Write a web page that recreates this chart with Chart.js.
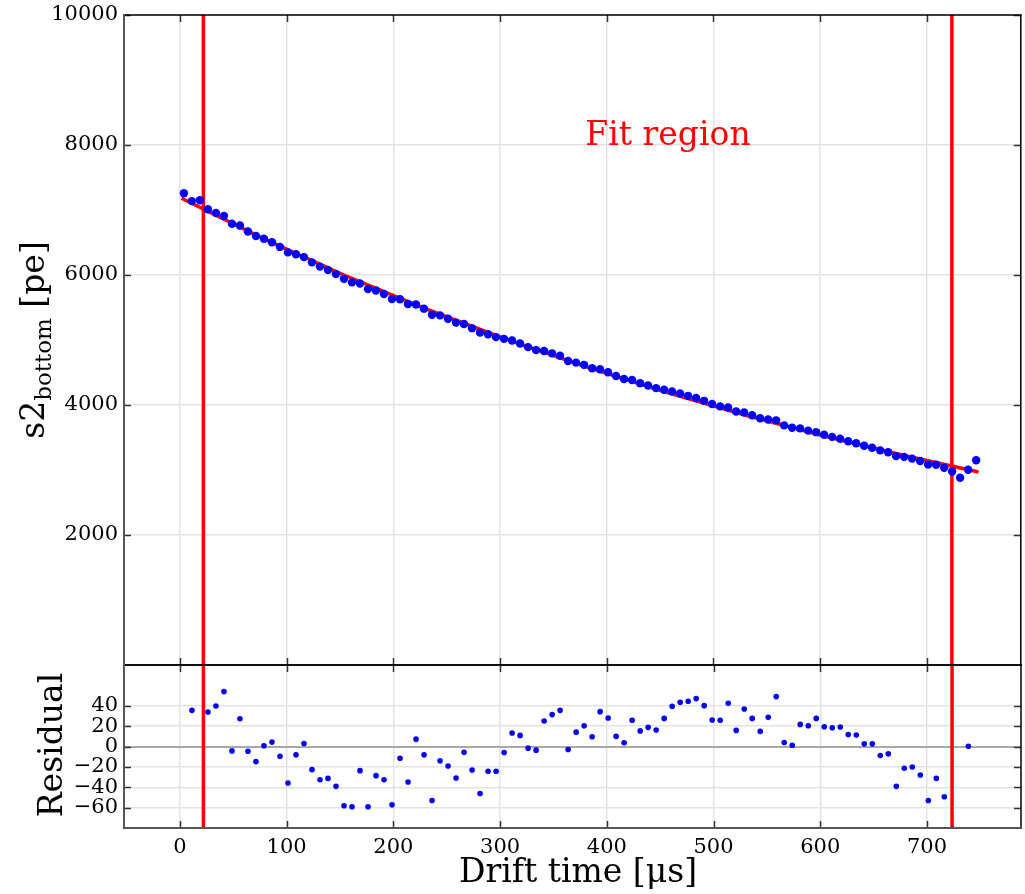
<!DOCTYPE html>
<html>
<head>
<meta charset="utf-8">
<script src="https://cdn.jsdelivr.net/npm/chart.js@4.4.0/dist/chart.umd.min.js"></script>
<style>
  html, body { margin: 0; padding: 0; background: #fff; }
  #wrap { position: relative; width: 1025px; height: 894px; overflow: hidden; }
  #wrap canvas { position: absolute; left: 0; }
  #cMain { top: -5px; }
  #cRes { top: 645px; }
</style>
</head>
<body>
<div id="wrap">
  <canvas id="cMain" width="1025" height="690"></canvas>
  <canvas id="cRes" width="1025" height="249"></canvas>
</div>
<script>
// ── data ────────────────────────────────────────────────
// drift time bin centres [µs]
var driftTime = [
  3.75, 11.25, 18.75, 26.25, 33.75, 41.25, 48.75, 56.25, 63.75, 71.25,
  78.75, 86.25, 93.75, 101.25, 108.75, 116.25, 123.75, 131.25, 138.75, 146.25,
  153.75, 161.25, 168.75, 176.25, 183.75, 191.25, 198.75, 206.25, 213.75, 221.25,
  228.75, 236.25, 243.75, 251.25, 258.75, 266.25, 273.75, 281.25, 288.75, 296.25,
  303.75, 311.25, 318.75, 326.25, 333.75, 341.25, 348.75, 356.25, 363.75, 371.25,
  378.75, 386.25, 393.75, 401.25, 408.75, 416.25, 423.75, 431.25, 438.75, 446.25,
  453.75, 461.25, 468.75, 476.25, 483.75, 491.25, 498.75, 506.25, 513.75, 521.25,
  528.75, 536.25, 543.75, 551.25, 558.75, 566.25, 573.75, 581.25, 588.75, 596.25,
  603.75, 611.25, 618.75, 626.25, 633.75, 641.25, 648.75, 656.25, 663.75, 671.25,
  678.75, 686.25, 693.75, 701.25, 708.75, 716.25, 723.75, 731.25, 738.75, 746.25
];

// s2 bottom [pe] per bin
var s2Bottom = [
  7258, 7137, 7151, 7011, 6955, 6908, 6789, 6761, 6669, 6600,
  6557, 6503, 6432, 6348, 6320, 6275, 6194, 6129, 6076, 6014,
  5941, 5887, 5870, 5783, 5762, 5707, 5631, 5627, 5553, 5546,
  5482, 5389, 5379, 5327, 5268, 5246, 5182, 5113, 5089, 5044,
  5018, 4993, 4946, 4890, 4845, 4831, 4795, 4757, 4677, 4652,
  4618, 4566, 4550, 4504, 4447, 4401, 4385, 4336, 4301, 4260,
  4234, 4209, 4176, 4141, 4107, 4064, 4015, 3979, 3961, 3900,
  3886, 3843, 3797, 3777, 3764, 3687, 3651, 3640, 3606, 3582,
  3542, 3510, 3480, 3442, 3411, 3372, 3343, 3302, 3274, 3213,
  3202, 3175, 3139, 3086, 3080, 3035, 2976, 2880, 3003, 3151
];

// data minus fit
var residual = [
  93, 35.5, 112, 33.9, 39.8, 53.9, -4.3, 27.3, -4.6, -14.8,
  0.7, 4.3, -9.5, -35.9, -8.2, 3.0, -22.7, -32.6, -31.3, -39.1,
  -58.2, -59.2, -23.7, -59.2, -28.6, -32.6, -57.2, -11.5, -34.9, 7.2,
  -8.2, -53.0, -14.1, -19.1, -30.9, -5.6, -23.0, -46.1, -24.3, -24.3,
  -5.9, 13.2, 10.9, -1.6, -3.6, 25.0, 31.3, 35.5, -3.0, 14.1,
  20.4, 9.5, 34.2, 28.0, 9.9, 3.6, 25.7, 15.3, 18.8, 16.1,
  27.6, 39.5, 43.4, 44.4, 47.0, 40.1, 26.0, 25.7, 42.4, 15.8,
  36.8, 27.6, 14.8, 28.6, 49.0, 3.9, 1.3, 21.7, 20.4, 27.6,
  19.4, 18.4, 19.1, 11.8, 11.2, 2.6, 2.6, -8.9, -7.2, -39.1,
  -21.4, -20.1, -28.0, -53.0, -31.3, -49.3, -81, -150, 0.3, 175
];

// fit curve, sampled
var fitX = [1.5, 78.75, 153.75, 228.75, 303.75, 378.75, 453.75, 528.75, 603.75, 678.75, 748.5];
var fitY = [7180, 6557, 6000, 5490, 5024, 4597, 4207, 3850, 3523, 3224, 2968];

// fit region limits [µs]
var fitRegion = [22, 723.5];

var xTicks   = [0, 100, 200, 300, 400, 500, 600, 700];
var yTicks   = [2000, 4000, 6000, 8000, 10000];
var resTicks = [-60, -40, -20, 0, 20, 40];

var X_MIN = -52.4, X_MAX = 788.1;

// ── style ───────────────────────────────────────────────
var SERIF = "'DejaVu Serif', 'Liberation Serif', serif";
var GRID  = '#e3e3e3';
var BLUE  = '#0000ff';
var RED   = '#ff0000';

function pts(xs, ys) {
  return xs.map(function(x, i) { return { x: x, y: ys[i] }; });
}

function vline(x, lo, hi) {
  return {
    data: [{ x: x, y: lo }, { x: x, y: hi }],
    showLine: true, borderColor: RED, borderWidth: 3.5,
    pointRadius: 0, order: 3
  };
}

function xScale(showLabels) {
  return {
    type: 'linear', min: X_MIN, max: X_MAX,
    afterBuildTicks: function(s) { s.ticks = xTicks.map(function(v) { return { value: v }; }); },
    afterFit: function(s) { s.height = showLabels ? 66 : 0; },
    grid: { color: GRID, lineWidth: 1.5, drawTicks: false },
    border: { display: false },
    ticks: {
      display: showLabels, padding: 7, color: '#000', maxRotation: 0,
      font: { family: SERIF, size: 21 },
      callback: function(v) { return String(v); }
    }
  };
}

// box + inward ticks, matplotlib style
function framePlugin(leftColor, bottomColor) {
  return {
    id: 'frame',
    afterDatasetsDraw: function(chart) {
      var a = chart.chartArea, ctx = chart.ctx;
      var sx = chart.scales.x, sy = chart.scales.y;
      ctx.save();
      ctx.lineCap = 'butt';
      ctx.strokeStyle = '#333';
      ctx.lineWidth = 1.5;
      ctx.beginPath();
      xTicks.forEach(function(v) {
        var px = Math.round(sx.getPixelForValue(v)) + 0.5;
        ctx.moveTo(px, a.top); ctx.lineTo(px, a.top + 7);
        ctx.moveTo(px, a.bottom); ctx.lineTo(px, a.bottom - 7);
      });
      sy.ticks.forEach(function(t) {
        var py = Math.round(sy.getPixelForValue(t.value)) + 0.5;
        ctx.moveTo(a.left, py); ctx.lineTo(a.left + 7, py);
        ctx.moveTo(a.right, py); ctx.lineTo(a.right - 7, py);
      });
      ctx.stroke();

      function seg(x1, y1, x2, y2, col, w) {
        ctx.strokeStyle = col; ctx.lineWidth = w;
        ctx.beginPath(); ctx.moveTo(x1, y1); ctx.lineTo(x2, y2); ctx.stroke();
      }
      seg(a.left - 1, a.top, a.right + 1, a.top, '#000', 1.5);
      seg(a.right, a.top, a.right, a.bottom, '#000', 1.5);
      seg(a.left - 1, a.bottom, a.right + 1, a.bottom, bottomColor, bottomColor === '#000' ? 1.5 : 2);
      seg(a.left, a.top - 1, a.left, a.bottom + 1, leftColor, 2);
      ctx.restore();
    }
  };
}

// ── top panel: s2 vs drift time ─────────────────────────
// canvas sits 5px above the page top, so page y = canvas y - 5
var mainLabels = {
  id: 'mainLabels',
  afterDraw: function(chart) {
    var ctx = chart.ctx;
    ctx.save();
    ctx.fillStyle = RED;
    ctx.font = '33px ' + SERIF;
    ctx.textAlign = 'left';
    ctx.textBaseline = 'alphabetic';
    ctx.fillText('Fit region', chart.scales.x.getPixelForValue(380), chart.scales.y.getPixelForValue(8000));

    // y title with subscript
    ctx.fillStyle = '#000';
    ctx.translate(44, 345);
    ctx.rotate(-Math.PI / 2);
    var big = '33px ' + SERIF, small = '23px ' + SERIF;
    ctx.font = big;   var w1 = ctx.measureText('s2').width, w3 = ctx.measureText(' [pe]').width;
    ctx.font = small; var w2 = ctx.measureText('bottom').width;
    var x0 = -(w1 + w2 + w3) / 2;
    ctx.font = big;   ctx.fillText('s2', x0, 0);
    ctx.font = small; ctx.fillText('bottom', x0 + w1, 7);
    ctx.font = big;   ctx.fillText(' [pe]', x0 + w1 + w2, 0);
    ctx.restore();
  }
};

new Chart(document.getElementById('cMain'), {
  type: 'scatter',
  data: {
    datasets: [
      { data: pts(driftTime, s2Bottom), backgroundColor: BLUE, borderWidth: 0, pointRadius: 4.2, order: 1 },
      { data: pts(fitX, fitY), showLine: true, borderColor: RED, borderWidth: 3.5, pointRadius: 0, order: 2 },
      vline(fitRegion[0], 0, 10000),
      vline(fitRegion[1], 0, 10000)
    ]
  },
  options: {
    responsive: false, animation: false, devicePixelRatio: 1,
    layout: { padding: { top: 20, bottom: 20, left: 0, right: 2 } },
    plugins: { legend: { display: false }, tooltip: { enabled: false } },
    scales: {
      x: xScale(false),
      y: {
        min: 0, max: 10000,
        afterBuildTicks: function(s) { s.ticks = yTicks.map(function(v) { return { value: v }; }); },
        afterFit: function(s) { s.width = 124; },
        grid: { color: GRID, lineWidth: 1.5, drawTicks: false },
        border: { display: false },
        ticks: { padding: 6, color: '#000', font: { family: SERIF, size: 21 }, callback: function(v) { return String(v); } }
      }
    }
  },
  plugins: [framePlugin('#555', '#000'), mainLabels]
});

// ── bottom panel: residuals ─────────────────────────────
// canvas starts at page y = 645
var resLabels = {
  id: 'resLabels',
  afterDraw: function(chart) {
    var ctx = chart.ctx;
    ctx.save();
    ctx.fillStyle = '#000';
    ctx.font = '33px ' + SERIF;
    ctx.textAlign = 'center';
    ctx.textBaseline = 'alphabetic';
    ctx.fillText('Drift time [\u03bcs]', 578, 237);
    ctx.translate(62, 100);
    ctx.rotate(-Math.PI / 2);
    ctx.fillText('Residual', 0, 0);
    ctx.restore();
  }
};

new Chart(document.getElementById('cRes'), {
  type: 'scatter',
  data: {
    datasets: [
      { data: pts(driftTime, residual), backgroundColor: BLUE, borderWidth: 0, pointRadius: 2.8, order: 1 },
      vline(fitRegion[0], -80, 80),
      vline(fitRegion[1], -80, 80)
    ]
  },
  options: {
    responsive: false, animation: false, devicePixelRatio: 1,
    layout: { padding: { top: 20, bottom: 0, left: 0, right: 2 } },
    plugins: { legend: { display: false }, tooltip: { enabled: false } },
    scales: {
      x: xScale(true),
      y: {
        min: -80, max: 80,
        afterBuildTicks: function(s) { s.ticks = resTicks.map(function(v) { return { value: v }; }); },
        afterFit: function(s) { s.width = 124; },
        grid: {
          drawTicks: false,
          color: function(c) { return c.tick && c.tick.value === 0 ? '#a8a8a8' : GRID; },
          lineWidth: function(c) { return c.tick && c.tick.value === 0 ? 2 : 1.5; }
        },
        border: { display: false },
        ticks: {
          padding: 6, color: '#000', font: { family: SERIF, size: 21 },
          callback: function(v) { return v < 0 ? '\u2212' + Math.abs(v) : String(v); }
        }
      }
    }
  },
  plugins: [framePlugin('#555', '#555'), resLabels]
});
</script>
</body>
</html>
